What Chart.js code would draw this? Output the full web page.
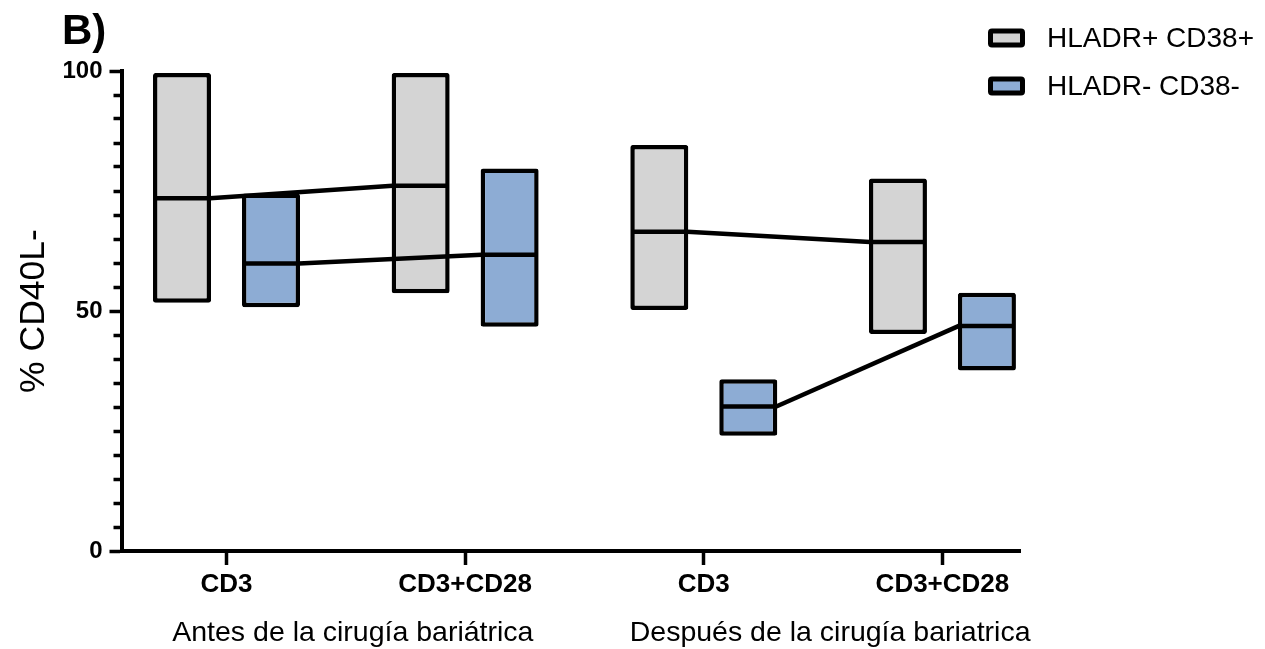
<!DOCTYPE html>
<html>
<head>
<meta charset="utf-8">
<title>% CD40L-</title>
<script src="https://cdn.jsdelivr.net/npm/chart.js@4.4.1/dist/chart.umd.min.js"></script>
<style>
  html, body { margin: 0; padding: 0; background: #ffffff; }
  #wrap { position: relative; width: 1265px; height: 649px; }
</style>
</head>
<body>
<div id="wrap"><canvas id="c"></canvas></div>
<script>
// ---------------- data ----------------
const categories = ['CD3', 'CD3+CD28', 'CD3', 'CD3+CD28'];
const groupLabels = ['Antes de la cirugía bariátrica', 'Después de la cirugía bariatrica'];
const categoryGroup = [0, 0, 1, 1];
const seriesNames = ['HLADR+ CD38+', 'HLADR- CD38-'];

// HLADR+ CD38+  (min / median / max)
const posMin    = [51.7, 53.7, 50.2, 45.2];
const posMedian = [73.5, 76.1, 66.5, 64.4];
const posMax    = [99.6, 99.6, 84.6, 77.6];

// HLADR- CD38-  (min / median / max)
const negMin    = [50.8, 46.7, 24.0, 37.6];
const negMedian = [59.9, 61.7, 30.1, 46.9];
const negMax    = [74.5, 79.7, 35.8, 53.8];

const yMajorTicks = [0, 50, 100];
const yMinorStep = 5;
const yTitle = '% CD40L-';
const panelLabel = 'B)';

// ---------------- styles ----------------
const FONT = "'Liberation Sans', Arial, Helvetica, sans-serif";
const fills = ['#d4d4d4', '#8dacd4'];
const BW = 4.5, R = 2.5, MED_W = 4.5, LINK_W = 4.5;
const X_MIN = -0.44, X_MAX = 3.325;

Chart.defaults.font.family = FONT;
Chart.defaults.color = '#000';

const series = [
  { name: seriesNames[0], min: posMin, med: posMedian, max: posMax, fill: fills[0] },
  { name: seriesNames[1], min: negMin, med: negMedian, max: negMax, fill: fills[1] }
];

// one floating bar (min..max) per series and category
const datasets = series.map((s, si) => ({
  label: s.name, seriesIndex: si,
  data: categories.map((_, i) => ({ x: i, y: [s.min[i], s.max[i]] })),
  backgroundColor: s.fill, borderColor: '#000',
  borderWidth: BW, borderRadius: R, borderSkipped: false
}));

// median bars inside each box, and lines joining medians of a series inside each surgery group
const medianMarks = {
  id: 'medianMarks',
  afterDatasetsDraw(chart) {
    const ctx = chart.ctx;
    const yScale = chart.scales.y;
    ctx.save();
    ctx.strokeStyle = '#000';
    ctx.lineCap = 'butt';
    chart.data.datasets.forEach((ds, di) => {
      const meta = chart.getDatasetMeta(di);
      const s = series[ds.seriesIndex];
      // medians
      meta.data.forEach((el, i) => {
        const ym = yScale.getPixelForValue(s.med[i]);
        ctx.lineWidth = MED_W;
        ctx.beginPath();
        ctx.moveTo(el.x - el.width / 2 + 1, ym);
        ctx.lineTo(el.x + el.width / 2 - 1, ym);
        ctx.stroke();
      });
      // links
      for (let i = 0; i + 1 < categories.length; i++) {
        if (categoryGroup[i] !== categoryGroup[i + 1]) continue;
        const a = meta.data[i], b = meta.data[i + 1];
        const x1 = a.x + a.width / 2 - 1, x2 = b.x - b.width / 2 + 1;
        const y1 = yScale.getPixelForValue(s.med[i]);
        const y2 = yScale.getPixelForValue(s.med[i + 1]);
        ctx.lineWidth = LINK_W;
        ctx.beginPath();
        ctx.moveTo(x1, y1);
        ctx.lineTo(x2, y2);
        ctx.stroke();
      }
    });
    ctx.restore();
  }
};

// legend (two stacked entries at top right) and the panel letter
const decorations = {
  id: 'decorations',
  afterDraw(chart) {
    const ctx = chart.ctx;
    ctx.save();
    ctx.fillStyle = '#000';
    ctx.font = "bold 42px " + FONT;
    ctx.textAlign = 'left';
    ctx.textBaseline = 'alphabetic';
    ctx.fillText(panelLabel, 62, 44);
    const bx = 990.5, bw = 32, bh = 14;
    series.forEach((s, k) => {
      const cy = 38 + k * 48;
      ctx.beginPath();
      ctx.roundRect(bx, cy - bh / 2, bw, bh, 1.5);
      ctx.fillStyle = s.fill;
      ctx.fill();
      ctx.lineWidth = 5;
      ctx.strokeStyle = '#000';
      ctx.stroke();
      ctx.fillStyle = '#000';
      ctx.font = "28px " + FONT;
      ctx.textBaseline = 'middle';
      ctx.fillText(s.name, 1047, cy + 1);
    });
    ctx.restore();
  }
};

new Chart(document.getElementById('c'), {
  type: 'bar',
  data: { datasets },
  options: {
    responsive: true,
    maintainAspectRatio: false,
    devicePixelRatio: 1,
    animation: false,
    datasets: { bar: { categoryPercentage: 0.7457, barPercentage: 0.652, grouped: true } },
    layout: { padding: { top: 71, right: 245, bottom: 0, left: 0 } },
    plugins: { legend: { display: false }, tooltip: { enabled: false }, title: { display: false } },
    scales: {
      x: {
        type: 'linear', position: 'bottom', min: X_MIN, max: X_MAX, offset: false, weight: 0,
        afterBuildTicks: (axis) => { axis.ticks = categories.map((_, i) => ({ value: i })); },
        afterFit: (axis) => { axis.height = 56; },
        grid: { display: true, drawOnChartArea: false, drawTicks: true, tickLength: 14, tickWidth: 3.5, tickColor: '#000', offset: false },
        border: { display: true, color: '#000', width: 4 },
        ticks: {
          autoSkip: false, maxRotation: 0, minRotation: 0, padding: 4, color: '#000',
          font: { family: FONT, size: 26, weight: 'bold' },
          callback: (v, i) => categories[i]
        }
      },
      xg: {
        type: 'linear', position: 'bottom', min: X_MIN, max: X_MAX, offset: false, weight: 1,
        afterBuildTicks: (axis) => {
          axis.ticks = groupLabels.map((_, g) => {
            const idx = categories.map((_, i) => i).filter((i) => categoryGroup[i] === g);
            return { value: idx.reduce((a, b) => a + b, 0) / idx.length };
          });
        },
        afterFit: (axis) => { axis.height = 42; },
        grid: { display: false, offset: false },
        border: { display: false },
        ticks: {
          autoSkip: false, maxRotation: 0, minRotation: 0, padding: 1, labelOffset: 7, color: '#000',
          font: { family: FONT, size: 28.5 },
          callback: (v, i) => groupLabels[i]
        }
      },
      y: {
        type: 'linear', position: 'left', min: 0, max: 100, stacked: false,
        afterFit: (axis) => { axis.width = 121.5; },
        ticks: {
          stepSize: yMinorStep, autoSkip: false, padding: 7, color: '#000',
          font: { family: FONT, size: 24, weight: 'bold' },
          callback: (v) => (yMajorTicks.includes(v) ? String(v) : '')
        },
        grid: {
          display: true, drawOnChartArea: false, drawTicks: true, tickLength: 12, tickWidth: 3.5, tickColor: '#000',
          tickBorderDash: (c) => (c.tick && yMajorTicks.includes(c.tick.value) ? [] : [0, 4, 50, 50])
        },
        border: { display: true, color: '#000', width: 4 },
        title: {
          display: true, text: yTitle, color: '#000',
          font: { family: FONT, size: 35.5, weight: 'normal' },
          padding: { top: 13, bottom: 0 }
        }
      }
    }
  },
  plugins: [medianMarks, decorations]
});
</script>
</body>
</html>
